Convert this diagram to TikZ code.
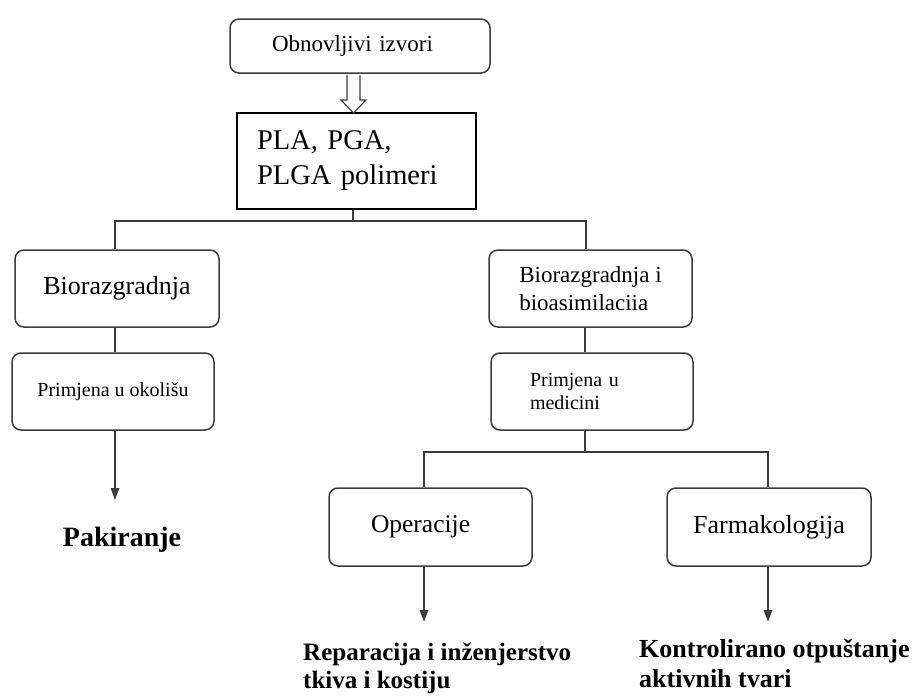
\documentclass[tikz,border=0pt]{standalone}
\usepackage{fontspec}
\setmainfont{Liberation Serif}
\usetikzlibrary{arrows.meta,calc}
\definecolor{linec}{RGB}{60,60,60}
\begin{document}
\begin{tikzpicture}[x=1pt,y=-1pt,
  box/.style={draw=linec, line width=1.5pt, rounded corners=9pt, inner sep=0pt, minimum height=77pt},
  conn/.style={draw=linec, line width=1.3pt},
  arr/.style={conn, -{Triangle[width=8.5pt,length=12pt]}},
  hollow/.style={draw=linec, line width=1.2pt, fill=white, line join=miter},
  lbl/.style={inner sep=0pt}]
\useasboundingbox (0,0) rectangle (914,696);

\node[box, minimum width=260pt, minimum height=54pt, inner xsep=42pt, text width=176pt, align=left, font=\fontsize{23}{27}\selectfont] (obn) at (360,46) {Obnovljivi izvori};
\node[draw=black, line width=1.5pt, inner xsep=20pt, inner ysep=0pt, text width=199pt, align=left, minimum height=96pt, font=\fontsize{28.5}{35}\selectfont] (pla) at (356.5,161) {PLA, PGA,\\PLGA polimeri};

\node[box, minimum width=204pt, font=\fontsize{26}{30}\selectfont] (bl) at (117,288.5) {Biorazgradnja};
\node[box, minimum width=202pt, font=\fontsize{20}{24}\selectfont] (pl) at (113,391.5) {Primjena u okolišu};
\node[box, minimum width=203pt, align=left, font=\fontsize{23}{28}\selectfont] (br) at (590.5,288.5) {Biorazgradnja i\\bioasimilaciia};
\node[box, inner xsep=39pt, text width=124pt, align=left, font=\fontsize{20}{23}\selectfont] (pm) at (592,391.5) {Primjena u\\medicini};
\node[box, minimum height=78pt, inner xsep=42pt, text width=119pt, align=left, font=\fontsize{25.5}{30}\selectfont] (op) at (430.5,527) {Operacije};
\node[box, minimum width=204pt, minimum height=78pt, font=\fontsize{26}{30}\selectfont] (fa) at (769,527) {Farmakologija};

\node[lbl, font=\bfseries\fontsize{28}{32}\selectfont, anchor=base] (pak) at (122,546) {Pakiranje};
\node[lbl, font=\bfseries\fontsize{25}{28}\selectfont, align=left, anchor=base west] (rep) at (303,688) {Reparacija i inženjerstvo\\tkiva i kostiju};
\node[lbl, font=\bfseries\fontsize{26}{30}\selectfont, align=left, anchor=base west] (kon) at (639,687) {Kontrolirano otpuštanje\\aktivnih tvari};

\coordinate (t1) at (353,221);
\coordinate (jl) at (115,221);
\coordinate (jr) at (586,221);
\coordinate (a1) at (115,500);
\coordinate (jm) at (585,452);
\coordinate (jo) at (424,452);
\coordinate (jf) at (768,452);
\coordinate (ao) at (424,622);
\coordinate (af) at (768,622);
\coordinate (dtip) at (353.5,113);

\draw[hollow] ($(dtip |- obn.south)+(-6.5,1)$) -- ($(dtip)+(-6.5,-13)$) -- ($(dtip)+(-12.5,-13)$) -- (dtip) -- ($(dtip)+(12.5,-13)$) -- ($(dtip)+(6.5,-13)$) -- ($(dtip |- obn.south)+(6.5,1)$);

\draw[conn] (t1 |- pla.south) -- (t1);
\draw[conn] (jl |- bl.north) -- (jl) -- (jr) -- (jr |- br.north);
\draw[conn] (jl |- bl.south) -- (jl |- pl.north);
\draw[arr] (jl |- pl.south) -- (a1);
\draw[conn] (jm |- br.south) -- (jm |- pm.north);
\draw[conn] (jm |- pm.south) -- (jm);
\draw[conn] (jo |- op.north) -- (jo) -- (jf) -- (jf |- fa.north);
\draw[arr] (jo |- op.south) -- (ao);
\draw[arr] (jf |- fa.south) -- (af);
\end{tikzpicture}
\end{document}
